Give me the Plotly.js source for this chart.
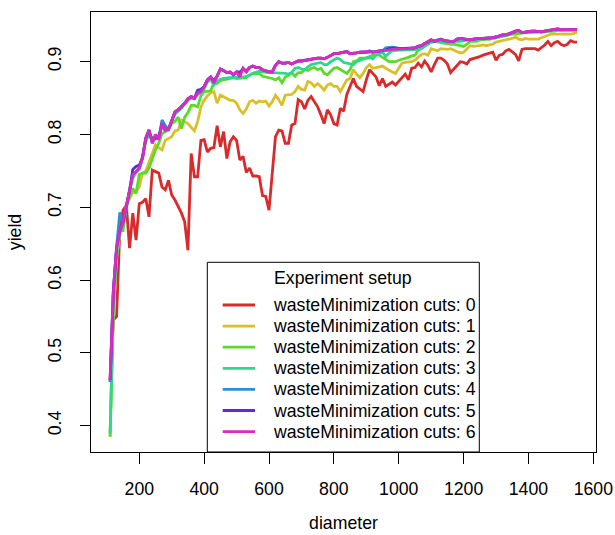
<!DOCTYPE html>
<html>
<head>
<meta charset="utf-8">
<script src="https://cdn.plot.ly/plotly-3.0.1.min.js"></script>
<style>html,body{margin:0;padding:0;background:#fff;}#chart{width:615px;height:535px;}</style>
</head>
<body>
<div id="chart"></div>
<script>
var diameter = [110,120,130,140,150,160,170,180,190,200,210,220,230,240,250,260,270,280,290,300,
310,320,330,340,350,360,370,380,390,400,410,420,430,440,450,460,470,480,490,500,
510,520,530,540,550,560,570,580,590,600,610,620,630,640,650,660,670,680,690,700,
710,720,730,740,750,760,770,780,790,800,810,820,830,840,850,860,870,880,890,900,
910,920,930,940,950,960,970,980,990,1000,1010,1020,1030,1040,1050,1060,1070,1080,1090,1100,
1110,1120,1130,1140,1150,1160,1170,1180,1190,1200,1210,1220,1230,1240,1250,1260,1270,1280,1290,1300,
1310,1320,1330,1340,1350,1360,1370,1380,1390,1400,1410,1420,1430,1440,1450,1460,1470,1480,1490,1500,
1510,1520,1530,1540,1550];

var cuts0 = [0.46,0.545,0.55,0.67,0.696,0.703,0.644,0.692,0.655,0.705,
0.707,0.712,0.687,0.751,0.749,0.747,0.728,0.724,0.737,0.717,
0.710,0.701,0.692,0.680,0.641,0.774,0.742,0.742,0.792,0.793,
0.776,0.781,0.782,0.812,0.783,0.804,0.767,0.790,0.797,0.792,
0.765,0.770,0.748,0.754,0.743,0.743,0.742,0.716,0.715,0.696,
0.747,0.797,0.806,0.805,0.788,0.788,0.813,0.815,0.848,0.845,
0.835,0.847,0.852,0.845,0.838,0.827,0.815,0.834,0.827,0.815,
0.813,0.836,0.832,0.855,0.865,0.877,0.866,0.862,0.859,0.875,
0.889,0.884,0.879,0.867,0.877,0.866,0.869,0.872,0.868,0.873,
0.877,0.883,0.875,0.891,0.892,0.898,0.893,0.901,0.895,0.886,
0.896,0.905,0.905,0.902,0.897,0.885,0.890,0.895,0.900,0.899,
0.897,0.903,0.904,0.905,0.907,0.909,0.910,0.911,0.913,0.902,
0.909,0.910,0.915,0.917,0.914,0.910,0.901,0.917,0.918,0.918,
0.918,0.918,0.916,0.919,0.923,0.928,0.922,0.926,0.928,0.924,
0.922,0.924,0.929,0.927,0.927];

var cuts1 = [0.385,0.555,0.63,0.665,0.675,0.705,0.712,0.720,0.722,0.728,
0.747,0.750,0.762,0.775,0.786,0.782,0.779,0.792,0.795,0.797,
0.805,0.806,0.820,0.818,0.815,0.810,0.805,0.818,0.838,0.847,
0.853,0.857,0.859,0.843,0.854,0.852,0.850,0.847,0.847,0.843,
0.834,0.829,0.835,0.845,0.847,0.843,0.846,0.845,0.846,0.839,
0.845,0.854,0.848,0.840,0.854,0.855,0.855,0.859,0.866,0.862,
0.861,0.873,0.871,0.866,0.870,0.866,0.861,0.868,0.870,0.866,
0.866,0.859,0.868,0.875,0.877,0.889,0.883,0.878,0.884,0.892,
0.896,0.891,0.892,0.893,0.894,0.891,0.888,0.886,0.884,0.891,
0.898,0.899,0.899,0.900,0.902,0.906,0.910,0.911,0.909,0.918,
0.916,0.915,0.918,0.917,0.917,0.918,0.916,0.914,0.912,0.913,
0.918,0.922,0.921,0.921,0.922,0.923,0.922,0.923,0.924,0.927,
0.928,0.928,0.929,0.931,0.932,0.934,0.931,0.930,0.932,0.931,
0.931,0.931,0.931,0.933,0.935,0.937,0.938,0.938,0.938,0.938,
0.937,0.937,0.938,0.939,0.940];

var cuts2 = [0.385,0.56,0.63,0.668,0.668,0.700,0.715,0.726,0.719,0.745,
0.747,0.747,0.754,0.767,0.779,0.788,0.801,0.804,0.807,0.815,
0.818,0.824,0.808,0.824,0.830,0.840,0.840,0.838,0.853,0.859,
0.859,0.860,0.871,0.870,0.874,0.875,0.876,0.877,0.878,0.877,
0.877,0.877,0.878,0.882,0.884,0.883,0.884,0.880,0.879,0.879,
0.877,0.875,0.878,0.871,0.879,0.881,0.885,0.880,0.885,0.885,
0.889,0.888,0.891,0.892,0.889,0.891,0.884,0.882,0.886,0.891,
0.892,0.889,0.886,0.884,0.889,0.900,0.901,0.905,0.905,0.905,
0.905,0.910,0.909,0.909,0.906,0.903,0.900,0.900,0.900,0.902,
0.903,0.905,0.906,0.908,0.909,0.916,0.918,0.921,0.924,0.927,
0.928,0.927,0.926,0.925,0.925,0.924,0.924,0.923,0.923,0.921,
0.924,0.928,0.928,0.928,0.930,0.930,0.931,0.931,0.932,0.933,
0.935,0.935,0.936,0.937,0.938,0.938,0.939,0.939,0.940,0.940,
0.941,0.941,0.941,0.941,0.941,0.942,0.942,0.942,0.943,0.943,
0.943,0.943,0.943,0.944,0.944];

var cuts3 = [0.39,0.565,0.635,0.665,0.676,0.700,0.722,0.740,0.748,0.752,
0.770,0.790,0.800,0.795,0.797,0.795,0.812,0.805,0.808,0.818,
0.828,0.832,0.836,0.842,0.847,0.850,0.849,0.855,0.857,0.863,
0.872,0.876,0.868,0.873,0.876,0.877,0.878,0.878,0.878,0.878,
0.879,0.879,0.880,0.881,0.884,0.886,0.887,0.886,0.885,0.885,
0.885,0.885,0.885,0.884,0.884,0.883,0.885,0.891,0.892,0.890,
0.889,0.893,0.896,0.897,0.898,0.899,0.896,0.896,0.900,0.902,
0.905,0.903,0.899,0.898,0.897,0.896,0.900,0.902,0.903,0.905,
0.907,0.904,0.909,0.911,0.913,0.907,0.912,0.915,0.916,0.916,
0.916,0.916,0.917,0.917,0.916,0.917,0.918,0.922,0.925,0.927,
0.928,0.928,0.928,0.928,0.927,0.927,0.927,0.928,0.928,0.929,
0.930,0.930,0.930,0.931,0.931,0.931,0.932,0.931,0.932,0.933,
0.935,0.936,0.936,0.937,0.939,0.941,0.942,0.940,0.940,0.941,
0.941,0.941,0.941,0.941,0.941,0.942,0.943,0.943,0.944,0.943,
0.943,0.943,0.943,0.943,0.943];

var cuts4 = [0.46,0.585,0.645,0.693,0.678,0.700,0.723,0.745,0.749,0.754,
0.768,0.795,0.806,0.788,0.800,0.793,0.820,0.812,0.807,0.820,
0.831,0.834,0.838,0.843,0.849,0.852,0.850,0.857,0.859,0.866,
0.875,0.879,0.871,0.880,0.890,0.888,0.885,0.886,0.882,0.886,
0.886,0.889,0.888,0.892,0.894,0.892,0.892,0.889,0.887,0.886,
0.886,0.895,0.900,0.898,0.898,0.899,0.897,0.899,0.901,0.901,
0.902,0.903,0.903,0.904,0.905,0.905,0.904,0.906,0.908,0.911,
0.911,0.912,0.913,0.914,0.911,0.911,0.912,0.913,0.913,0.913,
0.915,0.913,0.914,0.915,0.915,0.919,0.920,0.920,0.919,0.918,
0.918,0.918,0.918,0.919,0.919,0.921,0.922,0.925,0.926,0.930,
0.928,0.930,0.931,0.929,0.928,0.928,0.928,0.931,0.932,0.931,
0.930,0.930,0.931,0.932,0.932,0.932,0.932,0.932,0.933,0.934,
0.936,0.937,0.937,0.938,0.940,0.942,0.943,0.940,0.941,0.941,
0.942,0.942,0.941,0.941,0.942,0.943,0.944,0.944,0.945,0.944,
0.944,0.944,0.944,0.944,0.944];

var cuts5 = [0.463,0.585,0.645,0.667,0.680,0.703,0.723,0.752,0.756,0.758,
0.768,0.795,0.806,0.792,0.795,0.797,0.815,0.806,0.807,0.820,
0.831,0.834,0.838,0.843,0.849,0.852,0.850,0.861,0.862,0.866,
0.875,0.879,0.874,0.880,0.890,0.888,0.885,0.886,0.882,0.886,
0.884,0.891,0.886,0.892,0.894,0.892,0.892,0.889,0.887,0.886,
0.886,0.895,0.900,0.898,0.898,0.899,0.897,0.899,0.901,0.901,
0.902,0.903,0.903,0.904,0.905,0.905,0.904,0.906,0.908,0.911,
0.911,0.912,0.913,0.914,0.911,0.911,0.912,0.913,0.913,0.913,
0.913,0.913,0.914,0.915,0.915,0.916,0.918,0.919,0.919,0.918,
0.918,0.918,0.918,0.919,0.919,0.921,0.922,0.925,0.928,0.930,
0.928,0.930,0.931,0.929,0.928,0.928,0.928,0.931,0.932,0.931,
0.930,0.930,0.931,0.932,0.932,0.932,0.932,0.932,0.933,0.934,
0.936,0.937,0.937,0.938,0.940,0.942,0.943,0.940,0.941,0.941,
0.942,0.942,0.941,0.941,0.942,0.943,0.944,0.944,0.945,0.944,
0.944,0.944,0.944,0.944,0.944];

var cuts6 = [0.463,0.585,0.645,0.667,0.680,0.703,0.723,0.745,0.749,0.754,
0.768,0.795,0.806,0.788,0.800,0.793,0.815,0.806,0.807,0.820,
0.831,0.834,0.838,0.843,0.849,0.852,0.850,0.857,0.859,0.866,
0.875,0.879,0.871,0.880,0.890,0.888,0.885,0.886,0.882,0.886,
0.879,0.891,0.886,0.892,0.894,0.892,0.892,0.889,0.887,0.886,
0.886,0.895,0.900,0.898,0.898,0.899,0.897,0.899,0.901,0.901,
0.902,0.903,0.903,0.904,0.905,0.905,0.904,0.906,0.908,0.911,
0.911,0.912,0.913,0.914,0.911,0.911,0.912,0.913,0.913,0.913,
0.913,0.913,0.914,0.915,0.915,0.916,0.916,0.917,0.917,0.918,
0.918,0.918,0.918,0.919,0.919,0.921,0.922,0.925,0.928,0.930,
0.928,0.930,0.931,0.929,0.928,0.928,0.928,0.931,0.932,0.931,
0.930,0.930,0.931,0.932,0.932,0.932,0.932,0.932,0.933,0.934,
0.936,0.937,0.937,0.938,0.940,0.942,0.943,0.940,0.941,0.941,
0.942,0.942,0.941,0.941,0.942,0.943,0.944,0.944,0.945,0.944,
0.944,0.944,0.944,0.944,0.944];

var seriesNames = ["wasteMinimization cuts: 0","wasteMinimization cuts: 1","wasteMinimization cuts: 2",
"wasteMinimization cuts: 3","wasteMinimization cuts: 4","wasteMinimization cuts: 5","wasteMinimization cuts: 6"];
var seriesColors = ["#D92B2B","#D9C02B","#5DD92B","#2BD98E","#2B8ED9","#5D2BD9","#D92BC0"];
var legendTitle = "Experiment setup";
var xTicks = [200,400,600,800,1000,1200,1400,1600];
var yTicks = [0.4,0.5,0.6,0.7,0.8,0.9];

var allY = [cuts0,cuts1,cuts2,cuts3,cuts4,cuts5,cuts6];
var FONT = "Liberation Sans, Arial, Helvetica, sans-serif";
var FS = 17.7;

var traces = allY.map(function(ys, k){
  return {x: diameter, y: ys, type: "scatter", mode: "lines", name: seriesNames[k],
    line: {color: seriesColors[k], width: 2.8}, showlegend: false, hoverinfo: "skip"};
});

// manual R-style legend (paper coords)
var L = 91, R = 596, T = 12, B = 452;
function px2x(p){ return (p - L) / (R - L); }
function py2y(p){ return (B - p) / (B - T); }
var shapes = [{type: "rect", xref: "paper", yref: "paper",
  x0: px2x(207.3), x1: px2x(479.3), y0: py2y(452), y1: py2y(262.3),
  line: {color: "#000", width: 1}, fillcolor: "#fff", layer: "above"}];
var annotations = [{xref: "paper", yref: "paper", x: px2x(343.3), y: py2y(278.3),
  text: legendTitle, showarrow: false, xanchor: "center", yanchor: "middle",
  font: {family: FONT, size: FS, color: "#000"}}];
for (var k = 0; k < seriesNames.length; k++){
  var yy = 305.0 + 21.1 * k;
  shapes.push({type: "line", xref: "paper", yref: "paper",
    x0: px2x(222.7), x1: px2x(255), y0: py2y(yy), y1: py2y(yy),
    line: {color: seriesColors[k], width: 2.8}, layer: "above"});
  annotations.push({xref: "paper", yref: "paper", x: px2x(270.7), y: py2y(yy),
    text: seriesNames[k], showarrow: false, xanchor: "left", yanchor: "middle",
    font: {family: FONT, size: FS, color: "#000"}});
}

var layout = {
  width: 615, height: 535,
  margin: {l: L, r: 615 - R, t: T, b: 535 - B, pad: 0},
  paper_bgcolor: "#fff", plot_bgcolor: "#fff",
  font: {family: FONT, size: FS, color: "#000"},
  showlegend: false,
  xaxis: {range: [51.1, 1608.3], tickmode: "array", tickvals: xTicks,
    ticks: "outside", ticklen: 11, tickwidth: 1, tickcolor: "#000",
    showline: true, mirror: true, linecolor: "#000", linewidth: 1,
    showgrid: false, zeroline: false, ticklabelstandoff: 10,
    tickfont: {family: FONT, size: FS, color: "#000"},
    title: {text: "diameter", font: {family: FONT, size: FS, color: "#000"}, standoff: 18}},
  yaxis: {range: [0.3639, 0.9683], tickmode: "array", tickvals: yTicks,
    ticktext: yTicks.map(function(v){return v.toFixed(1);}), tickangle: -90,
    ticks: "outside", ticklen: 10, tickwidth: 1, tickcolor: "#000",
    showline: true, mirror: true, linecolor: "#000", linewidth: 1,
    showgrid: false, zeroline: false, ticklabelstandoff: 12,
    tickfont: {family: FONT, size: FS, color: "#000"},
    title: {text: "yield", font: {family: FONT, size: FS, color: "#000"}, standoff: 18}},
  shapes: shapes,
  annotations: annotations
};

Plotly.newPlot("chart", traces, layout, {displayModeBar: false, staticPlot: true});
</script>
</body>
</html>
